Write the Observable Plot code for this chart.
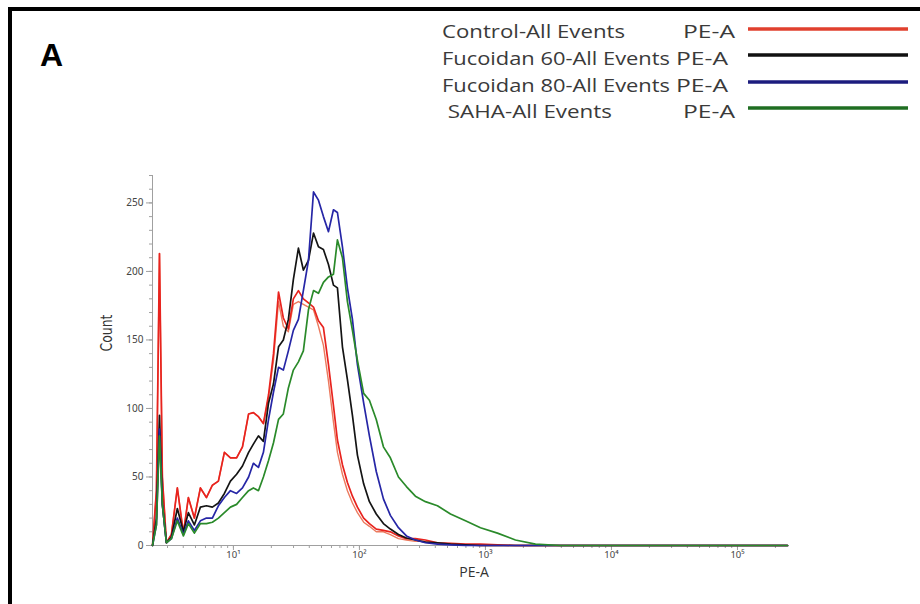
<!DOCTYPE html>
<html><head><meta charset="utf-8">
<script src="https://cdn.jsdelivr.net/npm/d3@7"></script>
<script src="https://cdn.jsdelivr.net/npm/@observablehq/plot@0.6"></script>
<style>
body{margin:0;background:#fff;}
#wrap{position:relative;width:920px;height:604px;overflow:hidden;background:#fff;}
#wrap svg{position:absolute;left:0;top:0;}
</style></head><body><div id="wrap"></div>
<script>
// PE-A channel values (bin positions, common to all histograms)
const peA = [2.28,2.45,2.59,2.73,2.94,3.22,3.59,4.01,4.39,4.9,
  5.47,6.11,6.81,7.6,8.48,9.47,10.6,11.8,13.2,14.4,
  15.8,17.3,19.0,20.8,22.8,24.9,27.3,29.9,32.8,35.9,
  39.4,43.2,47.3,51.8,56.8,62.2,66.9,73.3,80.3,88.0,
  96.4,108,120,136,155,176,204,236,278,334,
  416,528,694,913,1245,1730,2494,3938,8178,50850,249400];
// Counts per series
const control = [0,40,213,50,2,8,42,9,35,20, 42,35,44,47,68,64,64,72,96,97,
  94,89,110,140,185,166,158,180,186,180, 177,174,164,159,132,102,77,59,46,36,
  28,20,16,12,11,10,7,5,5,4, 2,1.5,1,1,0.5,0,0,0,0,0,0];
const controlRepeat = [0,40,213,50,2,8,42,9,35,20, 42,35,44,47,68,64,64,72,96,97,
  94,89,108,135,178,160,156,176,178,176, 174,172,160,146,120,90,68,52,40,31,
  24,17,14,10,10,8,5,4,3,3, 1.5,1,0.5,0,0,0,0,0,0,0,0];
const fucoidan60 = [0,20,95,30,2,6,27,10,24,15, 28,29,28,31,38,47,52,58,68,74,
  80,76,104,118,145,150,165,194,217,201, 208,228,218,216,205,190,188,145,121,95,
  66,45,32,23,16,12,8,5.5,4,2.5, 2,1,0.5,0,0,0,0,0,0,0,0];
const fucoidan80 = [0,15,85,30,2,5,20,8,18,11, 18,20,20,29,35,40,38,42,50,60,
  57,68,92,112,130,128,142,157,165,186, 208,258,252,240,229,245,243,218,188,165,
  132,104,80,54,34,22,13,7,4,2, 1,0.5,0,0,0,0,0,0,0,0,0];
const saha = [0,15,80,30,2,5,18,7,16,9, 16,16,17,20,24,28,30,35,40,42,
  40,50,62,75,92,96,115,128,134,142, 172,186,184,192,196,198,223,210,178,157,
  135,111,106,92,72,64,50,43,36,32, 29,23,18,13,9,4,1,0,0,0,0];

const legendNames = ["Control-All Events","Fucoidan 60-All Events","Fucoidan 80-All Events"," SAHA-All Events"];
const legendChannel = "PE-A";
const xMajorTicks = [10,100,1000,10000,100000];
const yMajorTicks = [0,50,100,150,200,250];
const xDomain = [2.28, 249400];
const yDomain = [0, 270];

const colors = {control:"#e8231e", controlRepeat:"#ec7a5e", fucoidan60:"#141414", fucoidan80:"#2626a6", saha:"#2a8a2a"};
const legendColors = ["#e0402e","#111111","#1c1c7e","#1f6e22"];

const toRows = arr => peA.map((x,i)=>({x, y: arr[i]}));
const xMinor = [];
for (let e = 0; e <= 5; e++) for (let m = 1; m <= 9; m++) { const v = m*Math.pow(10,e); if (v >= xDomain[0] && v <= xDomain[1]) xMinor.push(v); }
const yMinor = d3.range(0, 271, 10);
const sup = {0:"\u2070",1:"\u00B9",2:"\u00B2",3:"\u00B3",4:"\u2074",5:"\u2075"};

const chart = Plot.plot({
  width: 920, height: 604,
  marginLeft: 152, marginRight: 133, marginTop: 175, marginBottom: 59,
  style: {background: "transparent", fontFamily: "'Noto Sans','Open Sans',sans-serif"},
  x: {type: "log", domain: xDomain},
  y: {domain: yDomain},
  marks: [
    Plot.axisY({ticks: yMinor, tickSize: 3, tickFormat: () => "", label: null, color: "#a0a0a0"}),
    Plot.axisY({ticks: yMajorTicks, tickSize: 6, tickPadding: 3, label: null, color: "#a0a0a0", fill: "#444", fontSize: 10}),
    Plot.axisX({ticks: xMinor, tickSize: 3, tickFormat: () => "", label: null, color: "#a0a0a0"}),
    Plot.axisX({ticks: xMajorTicks, tickSize: 5, tickPadding: 1, label: null, color: "#a0a0a0", fill: "#444", fontSize: 9.5,
      tickFormat: d => "10" + sup[Math.round(Math.log10(d))]}),
    Plot.ruleX([xDomain[0]], {stroke: "#a0a0a0"}),
    Plot.ruleY([0], {stroke: "#a0a0a0"}),
    Plot.line(toRows(controlRepeat), {x: "x", y: "y", stroke: colors.controlRepeat, strokeWidth: 1.4}),
    Plot.line(toRows(control), {x: "x", y: "y", stroke: colors.control, strokeWidth: 1.7}),
    Plot.line(toRows(fucoidan60), {x: "x", y: "y", stroke: colors.fucoidan60, strokeWidth: 1.7}),
    Plot.line(toRows(fucoidan80), {x: "x", y: "y", stroke: colors.fucoidan80, strokeWidth: 1.7}),
    Plot.line(toRows(saha), {x: "x", y: "y", stroke: colors.saha, strokeWidth: 1.7}),
    Plot.text(["Count"], {frameAnchor: "left", dx: -46, dy: -9, rotate: -90, fontSize: 16, fill: "#333", fontFamily: "'Liberation Sans Narrow','DejaVu Sans Condensed',sans-serif"}),
    Plot.text(["PE-A"], {frameAnchor: "bottom", dx: 4, dy: 31, fontSize: 14, fill: "#333", fontFamily: "'Open Sans',sans-serif"})
  ]
});
d3.select(chart).selectAll("text").filter(function(){return this.textContent === "Count";})
  .attr("textLength", 37).attr("lengthAdjust", "spacingAndGlyphs");
document.getElementById("wrap").appendChild(chart);

// Overlay: panel frame, panel letter and legend
const ov = d3.select("#wrap").append("svg").attr("width", 920).attr("height", 604)
  .style("pointer-events", "none");
ov.append("path").attr("d", "M10,604 V9 H920").attr("fill", "none").attr("stroke", "#000").attr("stroke-width", 4);
ov.append("text").attr("x", 40).attr("y", 66).text("A")
  .attr("font-family", "'Liberation Sans',Arial,sans-serif").attr("font-weight", "bold").attr("font-size", 32).attr("fill", "#000");
const lgX = [442, 442, 442, 442];
const lgW = [183, 228, 228, 170];
const chX = [683, 676, 676, 683];
const base = [38, 65, 92, 118];
const lineY = [29, 55, 82, 108];
legendNames.forEach((name, i) => {
  ov.append("text").attr("x", lgX[i]).attr("y", base[i]).text(name)
    .attr("xml:space", "preserve").style("white-space", "pre")
    .attr("textLength", lgW[i]).attr("lengthAdjust", "spacingAndGlyphs")
    .attr("font-family", "'Open Sans',sans-serif").attr("font-size", 18).attr("fill", "#3a3a3a");
  ov.append("text").attr("x", chX[i]).attr("y", base[i]).text(legendChannel)
    .attr("textLength", 52).attr("lengthAdjust", "spacingAndGlyphs")
    .attr("font-family", "'Open Sans',sans-serif").attr("font-size", 18).attr("fill", "#3a3a3a");
  ov.append("line").attr("x1", 748).attr("x2", 908).attr("y1", lineY[i]).attr("y2", lineY[i])
    .attr("stroke", legendColors[i]).attr("stroke-width", 3.5);
});
</script></body></html>
